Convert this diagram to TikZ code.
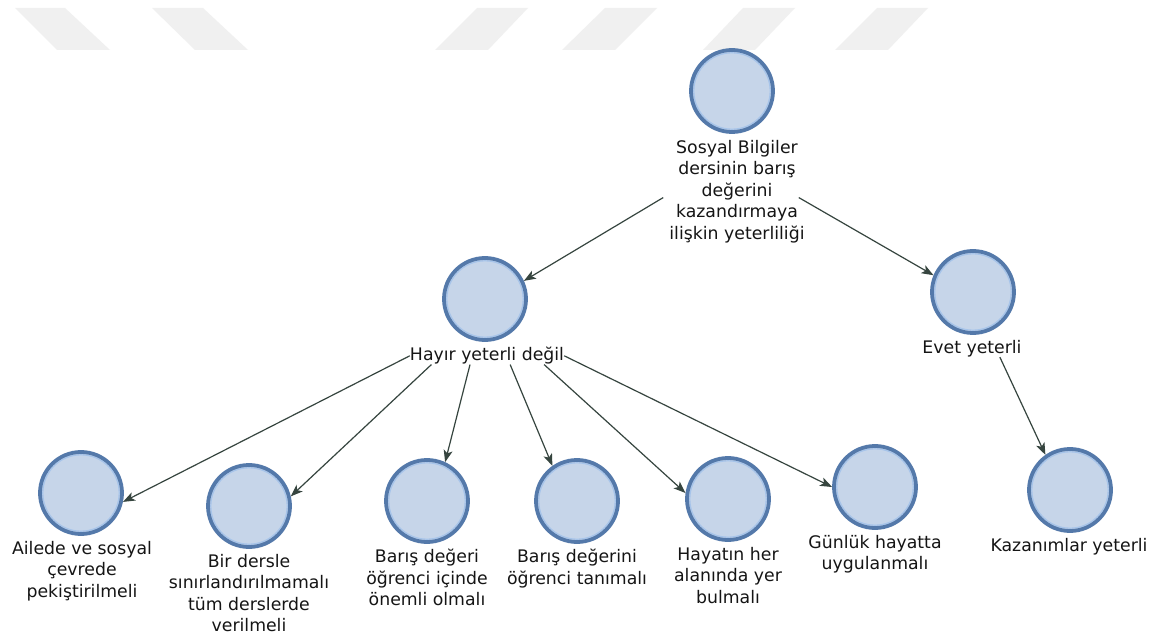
\documentclass[tikz,border=0pt]{standalone}
\usepackage{fontspec}
\setmainfont{DejaVu Sans}
\usetikzlibrary{arrows.meta,calc}
\definecolor{cfill}{HTML}{C6D5E9}
\definecolor{cborder}{HTML}{5479AA}
\definecolor{cring}{HTML}{A6C4EA}
\definecolor{arr}{HTML}{36453F}
\definecolor{wm}{HTML}{F0F0F0}
\definecolor{txt}{HTML}{151515}
\begin{document}
\begin{tikzpicture}[x=1pt,y=-1pt,
  circ/.style={circle, fill=cfill, draw=cborder, line width=3.8pt, minimum size=82pt, inner sep=0pt,
    path picture={\draw[cring, line width=1.2pt] (path picture bounding box.center) circle (38.2pt);}},
  lbl/.style={align=center, font=\fontsize{17.3}{21.5}\selectfont, text=txt, inner sep=0pt, anchor=north},
  conn/.style={draw=arr, line width=1.2pt, -{Stealth[length=12pt,width=9pt,inset=3pt]}},
  wmark/.style={fill=wm, draw=none}]
\fill[white] (0,0) rectangle (1157,636);
\useasboundingbox (0,0) rectangle (1157,636);
% watermark
\fill[wmark] (15,8) -- (65,8) -- (110,50) -- (57,50) -- cycle;
\fill[wmark] (152,8) -- (203,8) -- (248,50) -- (195,50) -- cycle;
\fill[wmark] (477,8) -- (528,8) -- (488,50) -- (435,50) -- cycle;
\fill[wmark] (605,8) -- (657,8) -- (615,50) -- (562,50) -- cycle;
\fill[wmark] (743,8) -- (795,8) -- (755,50) -- (703,50) -- cycle;
\fill[wmark] (877,8) -- (928,8) -- (888,50) -- (835,50) -- cycle;
% nodes
\node[circ] (T) at (732,91) {};
\node[lbl] (tT) at (737,140) {Sosyal Bilgiler\\dersinin barış\\değerini\\kazandırmaya\\ilişkin yeterliliği};
\node[circ] (H) at (485,299) {};
\node[lbl] (tH) at (487,347) {Hayır yeterli değil};
\node[circ] (E) at (973,292) {};
\node[lbl] (tE) at (972,340) {Evet yeterli};
\node[circ] (A1) at (81,493) {};
\node[lbl] (tA1) at (82,541) {Ailede ve sosyal\\çevrede\\pekiştirilmeli};
\node[circ] (A2) at (249,506) {};
\node[lbl] (tA2) at (249,554) {Bir dersle\\sınırlandırılmamalı\\tüm derslerde\\verilmeli};
\node[circ] (A3) at (427,501) {};
\node[lbl] (tA3) at (427,549) {Barış değeri\\öğrenci içinde\\önemli olmalı};
\node[circ] (A4) at (577,501) {};
\node[lbl] (tA4) at (577,549) {Barış değerini\\öğrenci tanımalı};
\node[circ] (A5) at (728,499) {};
\node[lbl] (tA5) at (728,547) {Hayatın her\\alanında yer\\bulmalı};
\node[circ] (A6) at (875,487) {};
\node[lbl] (tA6) at (875,535) {Günlük hayatta\\uygulanmalı};
\node[circ] (K) at (1070,490) {};
\node[lbl] (tK) at (1069,538) {Kazanımlar yeterli};
% connectors
\draw[conn] ([xshift=-6pt,yshift=-6pt]tT.west) -- (H.25);
\draw[conn] ([xshift=-6pt,yshift=-6pt]tT.east) -- (E.157);
\draw[conn] (tH.west) -- (A1.-12);
\draw[conn] ($(tH.south west)!0.14!(tH.south east)$) -- (A2.13);
\draw[conn] ($(tH.south west)!0.39!(tH.south east)$) -- (A3.65);
\draw[conn] ($(tH.south west)!0.65!(tH.south east)$) -- (A4.125);
\draw[conn] ($(tH.south west)!0.87!(tH.south east)$) -- (A5.172);
\draw[conn] (tH.east) -- (A6.180);
\draw[conn] ($(tE.south west)!0.78!(tE.south east)$) -- (K.125);
\end{tikzpicture}
\end{document}
